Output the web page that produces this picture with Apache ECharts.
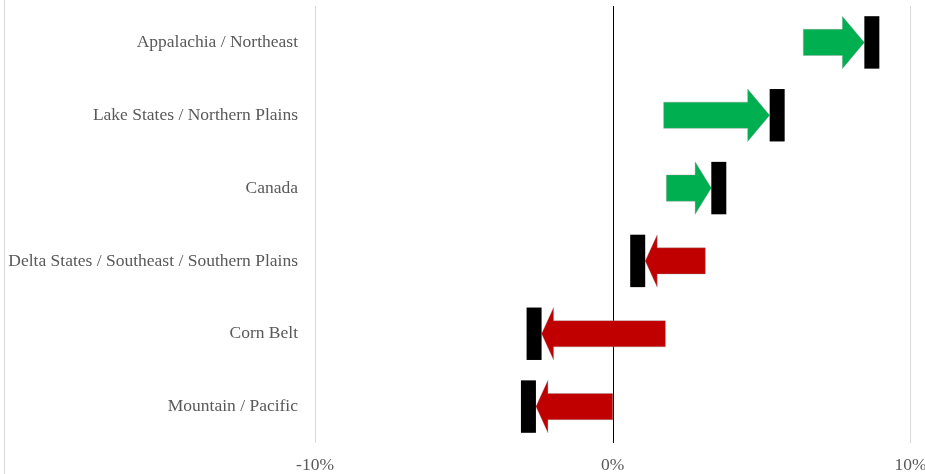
<!DOCTYPE html>
<html>
<head>
<meta charset="utf-8">
<script src="https://cdn.jsdelivr.net/npm/echarts@6/dist/echarts.min.js"></script>
<style>
html,body{margin:0;padding:0;background:#fff;overflow:hidden;}
#chart{width:925px;height:474px;}
</style>
</head>
<body>
<div id="chart"></div>
<script>
const categories = [
  'Appalachia / Northeast',
  'Lake States / Northern Plains',
  'Canada',
  'Delta States / Southeast / Southern Plains',
  'Corn Belt',
  'Mountain / Pacific'
];
const startValues = [6.4, 1.71, 1.8, 3.11, 1.77, 0.0];
const endValues = [8.45, 5.27, 3.31, 1.09, -2.39, -2.58];
const xTicks = [-10, 0, 10];

const chart = echarts.init(document.getElementById('chart'));
const FONT = '"Liberation Serif", "Times New Roman", serif';

const data = categories.map((c, i) => [i, startValues[i], endValues[i]]);

function renderArrow(params, api) {
  const cat = api.value(0);
  const s = api.value(1);
  const e = api.value(2);
  const p0 = api.coord([s, cat]);
  const p1 = api.coord([e, cat]);
  const band = api.size([0, 1])[1];
  const cy = p0[1];
  const x0 = p0[0];
  const tip = p1[0];
  const dir = tip >= x0 ? 1 : -1;
  const len = Math.abs(tip - x0);
  const headH = band * 0.36;
  const shaftH = band * 0.18;
  const headL = dir > 0 ? Math.min(22, len * 0.36) : 12;
  const hx = tip - dir * headL;
  const color = dir > 0 ? '#00B050' : '#C00000';
  const pts = [
    [x0, cy - shaftH],
    [hx, cy - shaftH],
    [hx, cy - headH],
    [tip, cy],
    [hx, cy + headH],
    [hx, cy + shaftH],
    [x0, cy + shaftH]
  ];
  const barW = 15;
  const bx = dir > 0 ? tip : tip - barW;
  return {
    type: 'group',
    children: [
      {
        type: 'polygon',
        shape: { points: pts },
        style: { fill: color, stroke: 'rgba(150,150,150,0.6)', lineWidth: 0.6 }
      },
      {
        type: 'rect',
        shape: { x: bx, y: cy - headH, width: barW, height: headH * 2 },
        style: { fill: '#000000' }
      }
    ]
  };
}

chart.setOption({
  animation: false,
  backgroundColor: '#ffffff',
  grid: { left: 315, right: 14.5, top: 6, bottom: 31, containLabel: false, outerBoundsMode: 'none' },
  xAxis: {
    type: 'value',
    min: xTicks[0],
    max: xTicks[xTicks.length - 1],
    interval: 10,
    axisLine: { show: false },
    axisTick: { show: false },
    splitLine: { show: true, lineStyle: { color: '#d9d9d9', width: 1 } },
    axisLabel: {
      formatter: '{value}%',
      fontFamily: FONT,
      fontSize: 17.5,
      color: '#595959',
      margin: 13,
      hideOverlap: false
    }
  },
  yAxis: {
    type: 'category',
    inverse: true,
    data: categories,
    axisLine: { show: false },
    axisTick: { show: false },
    splitLine: { show: false },
    axisLabel: {
      fontFamily: FONT,
      fontSize: 17.5,
      color: '#595959',
      margin: 17
    }
  },
  graphic: [
    {
      type: 'line',
      shape: { x1: 4.5, y1: 0, x2: 4.5, y2: 474 },
      style: { stroke: '#d9d9d9', lineWidth: 1 },
      silent: true
    }
  ],
  series: [
    {
      type: 'custom',
      renderItem: renderArrow,
      encode: { x: [1, 2], y: 0 },
      data: data,
      z: 3,
      markLine: {
        silent: true,
        symbol: 'none',
        label: { show: false },
        lineStyle: { color: '#000000', width: 1, type: 'solid' },
        data: [{ xAxis: 0 }],
        z: 2
      }
    }
  ]
});
</script>
</body>
</html>
